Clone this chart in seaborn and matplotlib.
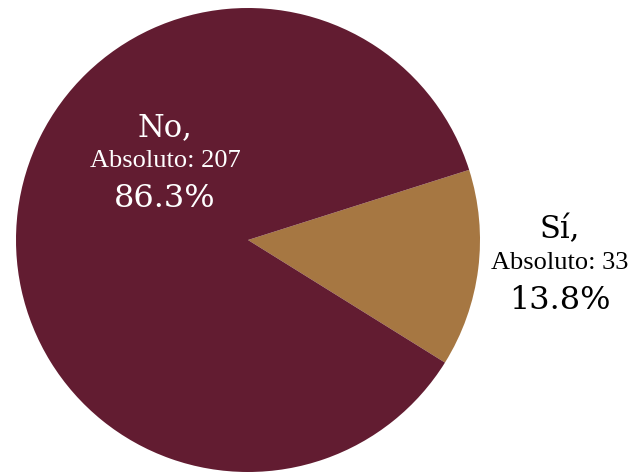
from decimal import Decimal, ROUND_HALF_UP

import numpy as np
import pandas as pd
import seaborn as sns
import matplotlib
matplotlib.use("Agg")
import matplotlib.pyplot as plt

# data
categories = ["Sí", "No"]
counts = [33, 207]
colors = ["#A67742", "#621C31"]
text_colors = ["#000000", "#FFFFFF"]
# manual label anchors in pie units (center 0,0, radius 1)
label_pos = [(1.345, -0.1), (-0.358, 0.34)]

sns.set_theme(style="white")
plt.rcParams["font.family"] = ["DejaVu Serif", "Liberation Serif"]

df = pd.DataFrame({"cat": categories, "n": counts})
df["pct"] = df["n"] / df["n"].sum() * 100


def pct_label(v):
    # round half up like spreadsheet software does
    return str(Decimal(str(v)).quantize(Decimal("0.1"), rounding=ROUND_HALF_UP)) + "%"


fig = plt.figure(figsize=(6.35, 4.75), dpi=100)
ax = fig.add_axes([16 / 635, 3 / 475, 464 / 635, 464 / 475])

ax.pie(df["n"], colors=colors, startangle=17.6, counterclock=False,
       radius=1.0, wedgeprops=dict(linewidth=0))
ax.set_xlim(-1, 1)
ax.set_ylim(-1, 1)
ax.set_aspect("equal")
ax.axis("off")

for (x, y), row, tc in zip(label_pos, df.itertuples(), text_colors):
    ax.text(x, y + 0.145, f"{row.cat},", ha="center", va="center",
            fontsize=22, color=tc, clip_on=False)
    ax.text(x, y, f"Absoluto: {row.n}", ha="center", va="center",
            fontsize=19, color=tc, family=["Liberation Serif"], clip_on=False)
    ax.text(x, y - 0.16, pct_label(row.pct), ha="center", va="center",
            fontsize=23, color=tc, clip_on=False)

fig.savefig("out.png", dpi=100)
plt.close(fig)
